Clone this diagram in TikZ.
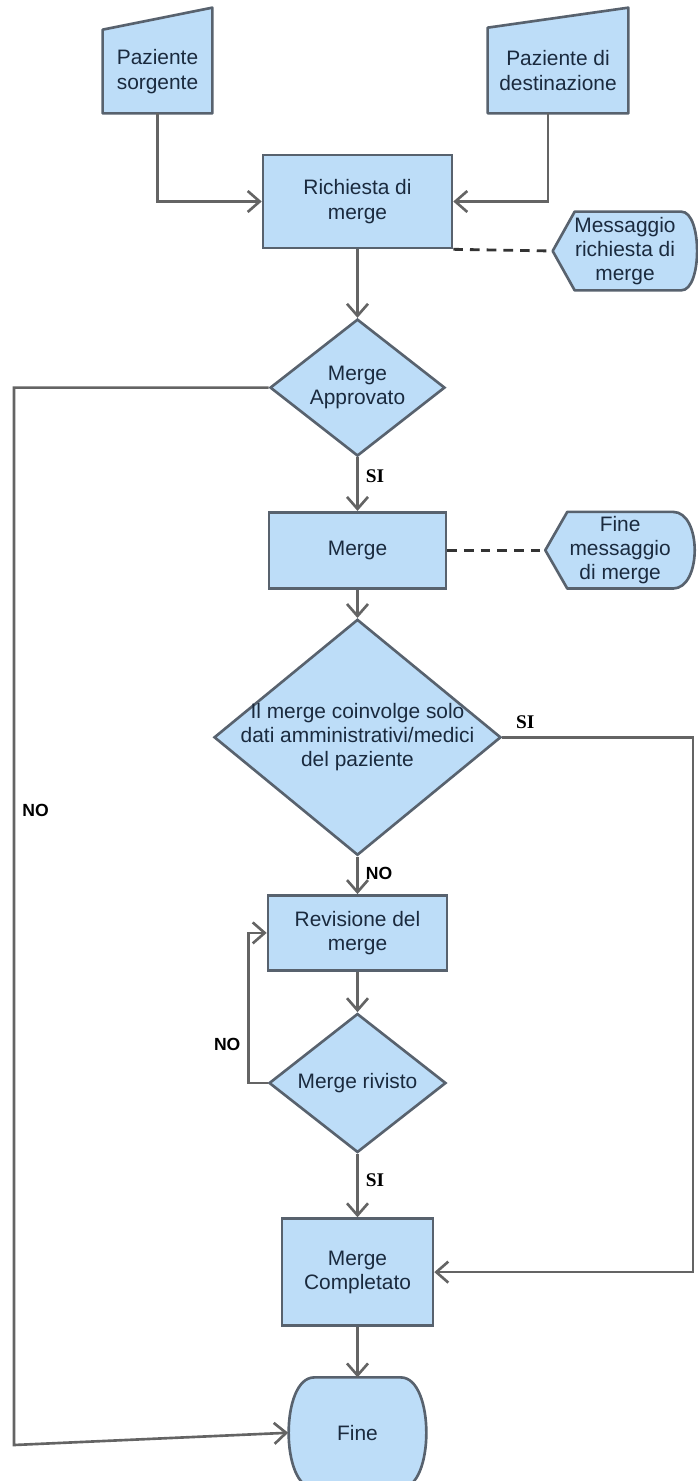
\documentclass[tikz,border=0pt]{standalone}
\usepackage{fontspec}
\setmainfont{Liberation Sans}
\newfontfamily\serifbf{Liberation Serif}
\usepackage{tikz}
\usetikzlibrary{arrows.meta, positioning, shapes.geometric, backgrounds, calc}
\definecolor{boxfill}{RGB}{189,221,248}
\definecolor{boxline}{RGB}{88,98,110}
\definecolor{wire}{RGB}{100,100,100}
\definecolor{boxtext}{RGB}{26,42,62}

\begin{document}
\begin{tikzpicture}[
  x=0.02cm, y=-0.02cm,
  font=\fontsize{11.9}{13.8}\selectfont,
  >={Straight Barb[length=2.4mm,width=4.2mm]},
  process/.style={
    draw=boxline,
    fill=boxfill,
    line width=1.5pt,
    text=boxtext,
    align=center,
    inner sep=2pt
  },
  decision/.style={process,diamond,inner sep=0pt},
  freebox/.style={align=center,text=boxtext,inner sep=0pt},
  outline/.style={draw=boxline,fill=boxfill,line width=1.5pt,line join=round},
  arr/.style={->,draw=wire,line width=1.5pt},
  msgline/.style={draw=black!80,line width=1.6pt,dash pattern=on 5.5pt off 4pt},
  yeslbl/.style={font=\serifbf\bfseries\fontsize{11}{12}\selectfont,inner sep=4pt},
  nolbl/.style={font=\bfseries\fontsize{10}{11}\selectfont,inner sep=4pt}
]

\useasboundingbox (0,0) rectangle (697,1481);

\node[freebox,minimum width=2.18cm,minimum height=1.66cm] (src) at (157.5,71.5)
{Paziente\\sorgente};

\node[freebox,minimum width=2.8cm,minimum height=1.7cm] (dst) at (558,70.5)
{Paziente di\\destinazione};

\node[process,minimum width=3.78cm,minimum height=1.86cm] (req) at (357.5,201.5)
{Richiesta di\\merge};

\node[freebox,minimum width=2.88cm,minimum height=1.56cm] (msgreq) at (625,251)
{Messaggio\\richiesta di\\merge};

\node[decision,minimum width=3.5cm,minimum height=2.74cm,below=1.37cm of req,
  label={[freebox]center:{Merge\\Approvato}}] (appr) {};

\node[process,minimum width=3.54cm,minimum height=1.52cm,below=1.07cm of appr] (mrg)
{Merge};

\node[freebox,minimum width=2.98cm,minimum height=1.52cm,right=1.96cm of mrg] (msgend)
{Fine\\messaggio\\di merge};

\node[decision,minimum width=5.74cm,minimum height=4.72cm,below=0.57cm of mrg,
  label={[freebox]center:{Il merge coinvolge solo\\dati amministrativi/medici\\del paziente}}] (onlydata) {};

\node[process,minimum width=3.58cm,minimum height=1.5cm,below=0.75cm of onlydata] (rev)
{Revisione del\\merge};

\node[decision,minimum width=3.54cm,minimum height=2.78cm,below=0.81cm of rev,
  label={[freebox]center:{Merge rivisto}}] (chk) {};

\node[process,minimum width=3.02cm,minimum height=2.14cm,below=1.27cm of chk] (done)
{Merge\\Completato};

\node[freebox,minimum width=2.76cm,minimum height=2.2cm,below=1.01cm of done] (fine)
{Fine};

% Outlines of the non-standard shapes.
\begin{scope}[on background layer]
  \path[outline] (src.south west) -- (src.south east) -- ($(src.north east)+(0,-22)$)
    -- (src.north west) -- cycle;
  \path[outline] (dst.south west) -- (dst.south east) -- ($(dst.north east)+(0,-20)$)
    -- (dst.north west) -- cycle;
  \path[outline] (msgreq.west) -- ($(msgreq.north west)+(22,0)$)
    -- ($(msgreq.north east)+(-16,0)$) .. controls +(21,0) and +(21,0) .. ($(msgreq.south east)+(-16,0)$)
    -- ($(msgreq.south west)+(22,0)$) -- cycle;
  \path[outline] (msgend.west) -- ($(msgend.north west)+(22,0)$)
    -- ($(msgend.north east)+(-22,0)$) .. controls +(29,0) and +(29,0) .. ($(msgend.south east)+(-22,0)$)
    -- ($(msgend.south west)+(22,0)$) -- cycle;
  \path[outline] ($(fine.north west)+(26,0)$) -- ($(fine.north east)+(-26,0)$)
    .. controls +(34,0) and +(34,0) .. ($(fine.south east)+(-26,0)$)
    -- ($(fine.south west)+(26,0)$) .. controls +(-34,0) and +(-34,0) .. cycle;
\end{scope}

\coordinate (leftrail) at (14,1445);
\coordinate (rightrail) at (693,0);

\draw[arr] (src.south) |- (req.west);
\draw[arr] ([xshift=-0.2cm]dst.south) |- (req.east);
\draw[arr] (req) -- (appr);
\draw[msgline] (req.south east) -- (msgreq.west);
\draw[arr] (appr) -- node[yeslbl,pos=0.36,right]{SI} (mrg);
\draw[msgline] (mrg) -- (msgend);
\draw[arr] (mrg) -- (onlydata);
\draw[arr] (onlydata) -- node[nolbl,pos=0.45,right]{NO} (rev);
\draw[arr] (rev) -- (chk);
\draw[arr] (chk) -- node[yeslbl,pos=0.42,right]{SI} (done);
\draw[arr] (done) -- (fine);

% Return paths.
\draw[arr] (appr.west) -| node[nolbl,pos=0.7,right]{NO} (leftrail) -- (fine.west);
\draw[arr] (onlydata.east) -- node[yeslbl,pos=0.12,above]{SI} (onlydata.east -| rightrail)
  |- (done.east);
\draw[arr] (chk.west) -| node[nolbl,pos=0.63,left]{NO} ([xshift=-0.36cm]rev.west) -- (rev.west);

\end{tikzpicture}
\end{document}
